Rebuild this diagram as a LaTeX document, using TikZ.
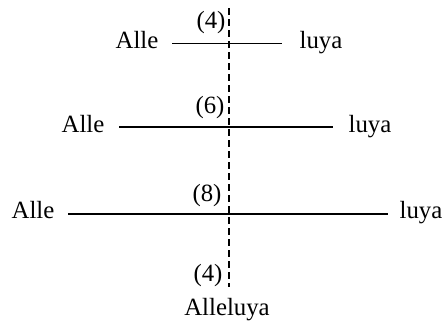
\documentclass[tikz,border=0pt]{standalone}
\usepackage{fontspec}
\setmainfont{Liberation Serif}
\begin{document}
\begin{tikzpicture}[x=0.5pt,y=-0.5pt,
  lbl/.style={anchor=base,inner sep=0pt,font=\fontsize{12.4}{14}\selectfont},
  bar/.style={line width=0.7pt},
  axis/.style={line width=0.7pt,dash pattern=on 3.5pt off 2pt}]
\useasboundingbox (0,0) rectangle (448,321);
% row 1
\node[lbl] (a1) at (137,48) {Alle};
\node[lbl] (l1) at (321,48) {luya};
\node[lbl] (n1) at (211,28) {(4)};
\coordinate (s1) at (172,43.5);
\coordinate (e1) at (282,43.5);
\draw[bar] (s1) -- (e1);
% row 2
\node[lbl] (a2) at (83,132) {Alle};
\node[lbl] (l2) at (370,132) {luya};
\node[lbl] (n2) at (210,113) {(6)};
\coordinate (s2) at (119,127);
\coordinate (e2) at (333,127);
\draw[bar] (s2) -- (e2);
% row 3
\node[lbl] (a3) at (33,218) {Alle};
\node[lbl] (l3) at (421,218) {luya};
\node[lbl] (n3) at (207,201) {(8)};
\coordinate (s3) at (68,214);
\coordinate (e3) at (388,214);
\draw[bar] (s3) -- (e3);
% bottom
\node[lbl] (n4) at (208,281) {(4)};
\node[lbl] (all) at (227,315) {Alleluya};
% axis
\coordinate (t) at (229,8);
\coordinate (b) at (229,287);
\draw[axis] (t) -- (b);
\end{tikzpicture}
\end{document}
